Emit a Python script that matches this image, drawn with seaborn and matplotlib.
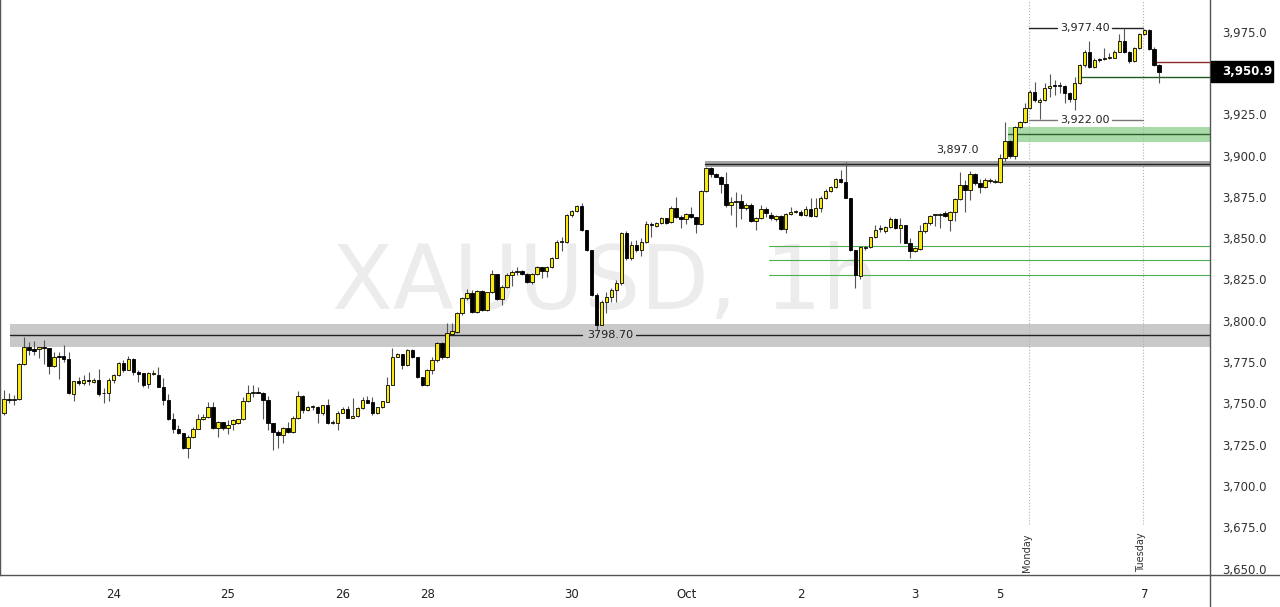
import numpy as np
import matplotlib
matplotlib.use("Agg")
import matplotlib.pyplot as plt
import matplotlib.transforms as mtransforms
from matplotlib.patches import Rectangle
from matplotlib.lines import Line2D
import seaborn as sns

# hourly XAUUSD candles
opens = [3744.0, 3752.7, 3752.3, 3752.5, 3773.9, 3784.0, 3782.8, 3782.7, 3783.8, 3783.3,
         3772.9, 3778.3, 3778.7, 3776.7, 3755.7, 3763.6, 3762.2, 3763.6, 3762.8, 3764.2,
         3756.1, 3756.1, 3764.2, 3767.2, 3774.3, 3770.2, 3776.7, 3769.2, 3768.2, 3761.6,
         3767.6, 3767.2, 3760.2, 3752.1, 3740.4, 3734.5, 3731.9, 3723.2, 3729.5, 3734.5,
         3740.4, 3742.0, 3748.0, 3734.9, 3738.5, 3735.3, 3737.3, 3737.9, 3740.3, 3751.4,
         3756.3, 3756.5, 3756.5, 3752.0, 3737.9, 3732.9, 3730.8, 3734.9, 3732.9, 3740.9,
         3754.4, 3746.0, 3748.0, 3748.0, 3743.9, 3748.8, 3738.3, 3737.9, 3744.0, 3746.8,
         3740.9, 3742.5, 3747.0, 3752.0, 3750.8, 3743.9, 3747.6, 3751.0, 3761.1, 3777.9,
         3779.7, 3773.2, 3782.3, 3778.3, 3766.2, 3761.1, 3770.2, 3776.3, 3786.4, 3778.3,
         3792.0, 3793.4, 3804.5, 3813.6, 3817.1, 3805.5, 3818.3, 3806.6, 3817.3, 3828.1,
         3813.0, 3820.7, 3827.7, 3829.8, 3830.0, 3828.4, 3823.7, 3828.1, 3832.4, 3830.2,
         3832.4, 3838.2, 3847.9, 3847.9, 3864.1, 3866.5, 3869.5, 3855.0, 3842.9, 3815.6,
         3797.5, 3811.6, 3814.6, 3818.7, 3822.7, 3853.4, 3837.8, 3845.9, 3842.9, 3847.9,
         3858.6, 3857.6, 3859.0, 3862.0, 3859.6, 3868.5, 3863.0, 3861.6, 3864.5, 3863.0,
         3858.6, 3878.8, 3892.3, 3888.7, 3887.3, 3882.8, 3870.1, 3871.7, 3872.5, 3868.1,
         3870.1, 3860.4, 3862.0, 3867.5, 3864.1, 3861.6, 3863.4, 3855.6, 3864.7, 3866.0,
         3866.1, 3864.1, 3867.5, 3863.6, 3868.1, 3874.1, 3878.8, 3881.2, 3885.6, 3884.2,
         3874.1, 3842.8, 3827.1, 3844.2, 3844.6, 3850.5, 3855.8, 3854.5, 3856.5, 3861.6,
         3855.9, 3857.9, 3847.3, 3842.4, 3843.2, 3854.5, 3859.0, 3864.0, 3864.0, 3865.4,
         3861.0, 3866.0, 3873.5, 3882.2, 3879.1, 3888.6, 3883.2, 3881.2, 3884.8, 3884.2,
         3884.2, 3898.3, 3909.1, 3899.5, 3917.5, 3920.1, 3929.0, 3938.3, 3932.2, 3933.6,
         3941.1, 3942.1, 3942.0, 3942.1, 3937.7, 3934.1, 3943.7, 3954.8, 3962.5, 3953.8,
         3958.2, 3958.2, 3959.3, 3959.3, 3962.9, 3969.4, 3962.5, 3957.3, 3965.0, 3973.4,
         3976.0, 3964.5, 3954.8]
highs = [3758.1, 3756.5, 3755.1, 3774.5, 3790.4, 3787.4, 3788.0, 3784.4, 3788.4, 3783.6,
         3781.3, 3781.3, 3785.2, 3780.9, 3763.6, 3766.2, 3767.2, 3769.2, 3765.2, 3770.8,
         3759.1, 3765.2, 3767.6, 3775.3, 3776.3, 3778.7, 3777.3, 3770.2, 3768.2, 3769.2,
         3770.2, 3772.3, 3765.2, 3755.7, 3744.0, 3736.9, 3732.0, 3730.9, 3735.9, 3743.6,
         3743.6, 3751.0, 3751.1, 3739.5, 3738.9, 3739.9, 3740.3, 3740.7, 3754.0, 3761.1,
         3761.1, 3760.1, 3757.1, 3754.6, 3737.9, 3733.9, 3735.9, 3738.9, 3742.3, 3757.7,
         3754.8, 3748.4, 3749.0, 3748.4, 3749.0, 3752.4, 3739.9, 3745.4, 3747.6, 3748.4,
         3753.4, 3748.0, 3754.0, 3754.4, 3754.0, 3748.0, 3751.6, 3766.2, 3783.3, 3780.3,
         3779.7, 3782.7, 3783.0, 3778.3, 3766.2, 3770.6, 3778.0, 3787.0, 3787.4, 3798.5,
         3798.5, 3805.5, 3814.6, 3819.3, 3818.7, 3818.7, 3818.7, 3817.7, 3830.8, 3828.3,
         3821.7, 3828.7, 3830.8, 3832.8, 3830.8, 3828.8, 3828.8, 3833.2, 3832.8, 3833.2,
         3838.8, 3848.9, 3851.0, 3864.7, 3867.1, 3870.1, 3871.1, 3855.0, 3842.9, 3816.6,
         3812.6, 3817.7, 3819.7, 3824.7, 3854.0, 3854.4, 3848.5, 3848.9, 3849.9, 3860.6,
         3860.0, 3860.0, 3863.0, 3862.4, 3869.5, 3875.2, 3864.0, 3865.1, 3869.1, 3863.0,
         3879.2, 3892.9, 3892.9, 3889.3, 3887.7, 3890.3, 3875.2, 3878.2, 3876.6, 3871.1,
         3871.1, 3863.0, 3870.1, 3868.7, 3866.1, 3864.0, 3864.0, 3865.1, 3869.1, 3867.1,
         3867.1, 3869.5, 3874.1, 3874.1, 3875.5, 3879.6, 3881.6, 3886.2, 3891.3, 3896.3,
         3874.1, 3843.0, 3845.5, 3845.0, 3850.9, 3857.9, 3857.9, 3857.3, 3862.6, 3862.0,
         3862.0, 3857.9, 3849.9, 3844.8, 3857.9, 3860.0, 3864.0, 3864.6, 3865.0, 3866.4,
         3866.4, 3874.1, 3890.2, 3885.2, 3890.8, 3889.2, 3885.6, 3886.2, 3886.2, 3885.6,
         3901.0, 3920.5, 3909.5, 3918.0, 3921.0, 3931.6, 3939.5, 3944.7, 3935.0, 3943.7,
         3949.2, 3945.7, 3944.5, 3942.7, 3938.7, 3947.8, 3955.2, 3963.9, 3969.4, 3958.9,
         3959.3, 3964.9, 3961.9, 3963.9, 3973.4, 3977.0, 3963.3, 3965.9, 3974.0, 3976.6,
         3976.6, 3965.9, 3955.2]
lows = [3743.0, 3750.1, 3749.0, 3752.0, 3773.5, 3779.3, 3779.3, 3777.3, 3773.7, 3767.6,
        3772.3, 3764.6, 3775.3, 3755.7, 3751.5, 3761.2, 3761.2, 3761.2, 3762.2, 3754.5,
        3750.1, 3751.5, 3762.2, 3766.6, 3769.2, 3770.0, 3767.2, 3763.2, 3760.2, 3759.1,
        3767.2, 3760.2, 3749.0, 3740.0, 3731.9, 3731.5, 3722.2, 3717.2, 3729.2, 3734.3,
        3740.0, 3741.0, 3734.5, 3729.4, 3733.9, 3731.4, 3733.9, 3737.5, 3739.9, 3751.0,
        3754.0, 3756.0, 3740.3, 3733.9, 3721.8, 3722.8, 3725.8, 3731.9, 3731.9, 3740.3,
        3743.9, 3745.4, 3746.0, 3737.9, 3742.9, 3737.5, 3737.5, 3733.9, 3744.0, 3740.9,
        3740.9, 3741.9, 3746.4, 3750.0, 3742.9, 3743.5, 3747.0, 3751.0, 3761.1, 3777.9,
        3770.6, 3772.6, 3777.5, 3765.1, 3760.5, 3760.5, 3768.0, 3775.0, 3777.0, 3777.5,
        3792.0, 3792.4, 3803.7, 3812.6, 3805.0, 3805.0, 3806.0, 3806.2, 3816.6, 3812.6,
        3809.6, 3819.7, 3821.1, 3827.7, 3827.7, 3823.1, 3822.1, 3827.7, 3825.7, 3826.7,
        3831.8, 3837.8, 3842.3, 3847.3, 3863.1, 3866.1, 3854.6, 3842.5, 3815.0, 3794.5,
        3797.5, 3804.5, 3811.6, 3811.6, 3821.7, 3836.8, 3836.8, 3841.9, 3839.2, 3846.9,
        3850.5, 3857.0, 3858.6, 3858.6, 3859.0, 3862.0, 3856.0, 3858.6, 3862.0, 3853.0,
        3858.0, 3878.2, 3887.3, 3886.9, 3877.6, 3869.1, 3864.1, 3856.6, 3861.4, 3867.1,
        3860.0, 3855.0, 3861.6, 3863.0, 3861.0, 3860.6, 3855.0, 3853.0, 3864.1, 3865.1,
        3863.4, 3863.4, 3863.0, 3863.0, 3866.1, 3873.5, 3878.2, 3880.2, 3883.2, 3874.1,
        3842.5, 3819.7, 3825.0, 3842.8, 3843.8, 3849.9, 3853.9, 3853.3, 3855.9, 3855.3,
        3846.8, 3846.9, 3837.8, 3841.8, 3842.8, 3853.3, 3858.0, 3857.3, 3855.9, 3862.6,
        3854.5, 3860.6, 3873.1, 3866.0, 3873.1, 3882.2, 3877.1, 3880.6, 3883.6, 3883.6,
        3883.6, 3897.0, 3898.6, 3898.0, 3917.0, 3919.5, 3928.5, 3932.6, 3922.1, 3933.0,
        3935.7, 3936.7, 3938.0, 3931.6, 3932.6, 3927.6, 3943.1, 3953.8, 3953.2, 3953.2,
        3956.9, 3957.9, 3958.2, 3958.9, 3962.5, 3961.9, 3955.8, 3956.9, 3964.5, 3973.0,
        3963.9, 3954.4, 3943.7]
closes = [3752.5, 3752.3, 3752.6, 3773.9, 3784.0, 3782.3, 3781.9, 3784.0, 3783.6, 3772.9,
          3778.3, 3778.0, 3776.7, 3756.1, 3763.6, 3762.2, 3764.2, 3763.4, 3764.2, 3755.7,
          3756.0, 3764.2, 3767.2, 3774.3, 3770.2, 3776.7, 3768.8, 3767.6, 3761.2, 3768.2,
          3768.6, 3760.2, 3752.1, 3740.4, 3734.5, 3731.9, 3722.8, 3729.5, 3734.5, 3740.4,
          3742.0, 3748.0, 3734.9, 3738.5, 3735.3, 3736.7, 3739.9, 3740.3, 3751.4, 3756.1,
          3756.5, 3756.3, 3752.0, 3737.9, 3732.9, 3730.8, 3734.9, 3732.9, 3740.9, 3754.4,
          3746.0, 3747.6, 3748.2, 3743.9, 3748.8, 3738.3, 3738.5, 3744.0, 3746.8, 3740.9,
          3742.5, 3747.0, 3752.0, 3750.4, 3743.9, 3747.6, 3751.4, 3761.1, 3777.9, 3779.7,
          3773.2, 3782.3, 3778.3, 3766.2, 3761.1, 3770.2, 3776.0, 3786.4, 3778.3, 3792.4,
          3793.8, 3804.5, 3813.6, 3817.1, 3805.5, 3818.3, 3806.6, 3817.3, 3828.1, 3813.0,
          3820.7, 3827.7, 3829.8, 3830.0, 3828.4, 3823.7, 3828.1, 3832.4, 3830.2, 3832.4,
          3838.2, 3847.9, 3848.0, 3864.1, 3866.5, 3869.5, 3855.0, 3842.9, 3815.6, 3797.5,
          3811.6, 3814.6, 3818.7, 3822.7, 3853.0, 3837.8, 3845.9, 3842.9, 3847.9, 3858.6,
          3857.8, 3859.4, 3862.0, 3859.4, 3868.5, 3863.0, 3861.6, 3864.5, 3863.0, 3858.6,
          3878.8, 3892.3, 3888.7, 3887.3, 3882.8, 3870.1, 3871.7, 3872.5, 3868.1, 3870.1,
          3860.4, 3862.0, 3867.5, 3865.1, 3862.0, 3863.4, 3855.6, 3864.7, 3865.7, 3866.1,
          3864.1, 3867.5, 3863.6, 3868.1, 3874.1, 3878.8, 3881.2, 3885.6, 3884.2, 3874.1,
          3842.8, 3827.7, 3844.5, 3844.6, 3850.5, 3854.9, 3856.0, 3856.5, 3861.6, 3855.9,
          3857.9, 3847.3, 3842.4, 3843.8, 3854.5, 3859.0, 3863.4, 3864.2, 3864.6, 3863.4,
          3866.0, 3873.5, 3882.2, 3879.1, 3888.6, 3883.2, 3881.2, 3885.2, 3885.0, 3884.8,
          3898.3, 3909.1, 3899.7, 3917.5, 3920.1, 3929.0, 3938.3, 3933.6, 3933.6, 3941.1,
          3942.1, 3942.0, 3942.1, 3937.7, 3934.1, 3943.7, 3954.8, 3962.5, 3953.8, 3957.9,
          3958.0, 3959.3, 3959.4, 3962.9, 3969.4, 3962.5, 3957.3, 3965.0, 3973.4, 3976.0,
          3964.5, 3954.8, 3950.9]

# session ticks (candle index) and labels
day_idx = [22, 45, 68, 85, 114, 137, 160, 183, 200, 229]
day_labels = ["24", "25", "26", "28", "30", "Oct", "2", "3", "5", "7"]
weekday_idx = [206, 229]
weekday_labels = ["Monday", "Tuesday"]

# drawn levels
support_zone = (3784.1, 3797.9, 3791.4)    # low, high, line
resist_zone = (3892.8, 3896.8, 3894.7)
demand_zone = (3908.4, 3917.1, 3913.3)
fib_levels = [3845.5, 3836.6, 3827.5]
range_levels = [3977.2, 3921.6]
range_labels = ["3,977.40", "3,922.00"]
red_level, green_level = 3956.8, 3947.4
last_price = closes[-1]

o = np.array(opens); h = np.array(highs); l = np.array(lows); c = np.array(closes)
idx = np.arange(len(o))

sns.set_theme(style="white")
plt.rcParams["font.family"] = ["DejaVu Sans"]

fig = plt.figure(figsize=(12.8, 6.07), dpi=100)
ax = fig.add_axes([0, 32 / 607, 1210 / 1280, 575 / 607])
ax.set_xlim(-0.8, 242.2)
ax.set_ylim(3646.1, 3994.2)

ax.text(0.5, 0.505, "XAUUSD, 1h", transform=ax.transAxes, fontsize=64,
        color="#ececec", ha="center", va="center", zorder=0)

# zones
ax.fill_between([1.2, 243], support_zone[0], support_zone[1], color="#c9c9c9", lw=0, zorder=1)
ax.plot([1.2, 116.1], [support_zone[2]] * 2, color="#222", lw=1, zorder=1.5)
ax.plot([127.0, 243], [support_zone[2]] * 2, color="#222", lw=1, zorder=1.5)
ax.text(121.7, support_zone[2], "3798.70", fontsize=8, ha="center", va="center", color="#222", zorder=5)

ax.fill_between([140.8, 243], resist_zone[0], resist_zone[1], color="#a5a5a5", lw=0, zorder=1)
ax.plot([140.8, 243], [resist_zone[2]] * 2, color="#222", lw=1, zorder=1.5)
ax.text(191.5, 3903.3, "3,897.0", fontsize=8, ha="center", va="center", color="#222", zorder=5)

ax.fill_between([201.6, 243], demand_zone[0], demand_zone[1], color="#a9dba9", lw=0, zorder=1)
ax.plot([201.6, 243], [demand_zone[2]] * 2, color="#2f5f2f", lw=1, zorder=1.5)

for lv in fib_levels:
    ax.plot([153.6, 243], [lv, lv], color="#4caf50", lw=0.8, zorder=1.5)

for lv, lab, col in zip(range_levels, range_labels, ["#222", "#777"]):
    ax.plot([205.8, 211.4], [lv, lv], color=col, lw=1, zorder=1.5)
    ax.plot([222.6, 228.7], [lv, lv], color=col, lw=1, zorder=1.5)
    ax.text(217.1, lv, lab, fontsize=8, ha="center", va="center", color="#222", zorder=5)

ax.plot([230.7, 243], [red_level] * 2, color="#8b2a2a", lw=1, zorder=1.5)
ax.plot([215.7, 243], [green_level] * 2, color="#1f5a1f", lw=1, zorder=1.5)

for xi, lab in zip(weekday_idx, weekday_labels):
    xp = xi - 0.2 if lab == "Monday" else xi - 0.3
    ax.vlines(xp, 3677, 3994.2, colors="#b0b0b0", linestyles=":", lw=0.8, zorder=1)
    ax.text(xp - 0.3, 3648, lab, rotation=90, fontsize=7, ha="center", va="bottom", color="#333")

# candles
up = c >= o
ax.vlines(idx, l, h, colors="#555555", lw=0.8, zorder=2)
body_low = np.minimum(o, c)
body_h = np.maximum(np.abs(c - o), 0.5)
ax.bar(idx, body_h, bottom=body_low, width=0.7,
       color=np.where(up, "#f7ea10", "#000000"), edgecolor="black", linewidth=0.6, zorder=3)

# axes styling; 3,950 is covered by the price tag
ax.yaxis.tick_right()
yt = [v for v in range(3650, 3976, 25) if v != 3950]
ax.set_yticks(yt)
ax.set_yticklabels([f"{v:,.1f}" for v in yt])
ax.set_xticks(day_idx)
ax.set_xticklabels(day_labels)
ax.tick_params(axis="y", length=0, pad=9, labelsize=8.5, labelcolor="#333")
ax.tick_params(axis="x", length=0, pad=9, labelsize=8.5, labelcolor="#222")
for s in ["left", "bottom", "right"]:
    ax.spines[s].set_color("#555")
    ax.spines[s].set_linewidth(1)
ax.spines["top"].set_visible(False)
ax.grid(False)

fig.add_artist(Line2D([1210 / 1280, 1], [32 / 607, 32 / 607], color="#555", lw=1))
fig.add_artist(Line2D([1210 / 1280, 1210 / 1280], [0, 32 / 607], color="#555", lw=1))

# last price tag
trans = mtransforms.blended_transform_factory(ax.transAxes, ax.transData)
ax.add_patch(Rectangle((1.0008, last_price - 6.1), 62 / 1210, 12.2, transform=trans,
                       facecolor="black", edgecolor="black", clip_on=False, zorder=6))
ax.text(1.0 + 12 / 1210, last_price, f"{last_price:,.1f}", transform=trans, color="white",
        fontsize=8.5, fontweight="bold", ha="left", va="center", zorder=7, clip_on=False)

fig.savefig("out.png", dpi=100)
